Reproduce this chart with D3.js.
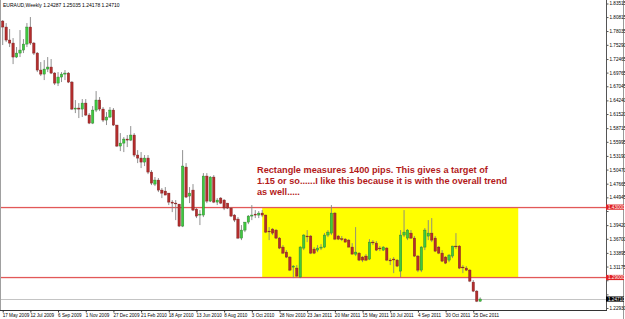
<!DOCTYPE html>
<html>
<head>
<meta charset="utf-8">
<script src="https://cdn.jsdelivr.net/npm/d3@7"></script>
<style>
body { margin: 0; background: #fff; }
svg { display: block; }
</style>
</head>
<body>
<div id="vis"></div>
<script>
var width = 625;
var height = 319;

var title = "EURAUD,Weekly  1.24287 1.25035 1.24178 1.24710";
var firstWeek = "2009-05-17";

// weekly candles, oldest first
var open = [1.8002,1.7883,1.7624,1.7564,1.7286,1.7365,1.7425,1.7544,1.7883,1.7564,
    1.7365,1.7027,1.6947,1.7047,1.7087,1.6967,1.6768,1.6888,1.6947,1.6967,
    1.6788,1.6251,1.6271,1.6251,1.6370,1.6132,1.5972,1.6231,1.6430,1.6251,
    1.6032,1.6092,1.6231,1.5933,1.5515,1.5574,1.5654,1.5634,1.5734,1.5336,
    1.5276,1.5196,1.5276,1.4997,1.4758,1.4838,1.4639,1.4619,1.4579,1.4400,
    1.4380,1.4360,1.3923,1.5097,1.4520,1.4639,1.4261,1.4142,1.4142,1.4918,
    1.4420,1.4898,1.4400,1.4480,1.4440,1.4380,1.4281,1.4142,1.4062,1.3684,
    1.3843,1.4002,1.4122,1.4161,1.4142,1.4181,1.4142,1.3823,1.3863,1.3843,
    1.3684,1.3505,1.3405,1.3306,1.3107,1.3087,1.2908,1.3485,1.3724,1.3724,
    1.3465,1.3445,1.3485,1.3505,1.3744,1.3783,1.4181,1.3724,1.3670,1.3664,
    1.3644,1.3505,1.3365,1.3385,1.3306,1.3326,1.3266,1.3604,1.3584,1.3485,
    1.3445,1.3485,1.3246,1.3266,1.3246,1.3027,1.3744,1.3684,1.3783,1.3684,
    1.3326,1.3047,1.3505,1.3724,1.3783,1.3684,1.3505,1.3385,1.3306,1.3246,
    1.3326,1.3525,1.3525,1.3107,1.3087,1.3047,1.2808,1.2629,1.24287];
var high = [1.8022,1.7962,1.7843,1.7664,1.7485,1.7823,1.7644,1.7962,1.8082,1.7584,
    1.7385,1.7186,1.7226,1.7286,1.7246,1.6987,1.6987,1.6987,1.7027,1.6987,
    1.6808,1.6430,1.6370,1.6450,1.6450,1.6171,1.6311,1.6609,1.6490,1.6291,
    1.6191,1.6291,1.6271,1.5933,1.5773,1.5694,1.5734,1.5913,1.5773,1.5435,
    1.5395,1.5336,1.5336,1.5037,1.4898,1.4878,1.4679,1.4699,1.4579,1.4440,
    1.4440,1.4360,1.5435,1.5176,1.4699,1.4758,1.4281,1.4241,1.4977,1.4977,
    1.4918,1.4937,1.4480,1.4500,1.4460,1.4380,1.4301,1.4161,1.4102,1.3943,
    1.4002,1.4142,1.4341,1.4241,1.4221,1.4241,1.4150,1.3903,1.3883,1.3863,
    1.3704,1.3545,1.3445,1.3326,1.3147,1.3147,1.3525,1.3763,1.3843,1.3744,
    1.3505,1.3545,1.3564,1.3783,1.3843,1.4341,1.4201,1.3744,1.3724,1.3684,
    1.3664,1.3584,1.3903,1.3405,1.3326,1.3365,1.3664,1.3644,1.3624,1.3525,
    1.3525,1.3505,1.3286,1.3306,1.3266,1.3843,1.4241,1.3863,1.3843,1.3724,
    1.3346,1.3525,1.3883,1.4042,1.4082,1.3724,1.3525,1.3445,1.3326,1.3365,
    1.3530,1.3783,1.3545,1.3147,1.3127,1.3067,1.2848,1.2649,1.25035];
var low = [1.7525,1.7584,1.7485,1.7146,1.7266,1.7286,1.7365,1.7485,1.7525,1.7326,
    1.6987,1.6908,1.6828,1.6987,1.6947,1.6729,1.6709,1.6788,1.6828,1.6768,
    1.6231,1.6171,1.6072,1.6092,1.6112,1.5952,1.5952,1.6191,1.6211,1.5992,
    1.5933,1.6072,1.5913,1.5495,1.5415,1.5395,1.5495,1.5614,1.5296,1.5176,
    1.5077,1.5117,1.4957,1.4739,1.4719,1.4599,1.4480,1.4540,1.4341,1.4201,
    1.4042,1.3903,1.3903,1.4480,1.4380,1.4221,1.4082,1.3943,1.4102,1.4380,
    1.4400,1.4380,1.4341,1.4360,1.4241,1.4261,1.4102,1.4002,1.3664,1.3644,
    1.3803,1.3962,1.4042,1.4082,1.4082,1.4102,1.3783,1.3644,1.3744,1.3664,
    1.3465,1.3365,1.3286,1.3027,1.2888,1.2908,1.2888,1.3445,1.3604,1.3365,
    1.3365,1.3405,1.3445,1.3485,1.3704,1.3744,1.3644,1.3644,1.3624,1.3598,
    1.3500,1.3360,1.3326,1.3226,1.3206,1.3226,1.3246,1.3545,1.3425,1.3425,
    1.3425,1.3226,1.3147,1.2987,1.3107,1.2908,1.3704,1.3644,1.3664,1.3306,
    1.3007,1.3007,1.3445,1.3644,1.3604,1.3405,1.3365,1.3206,1.3166,1.3206,
    1.3286,1.3465,1.3067,1.2987,1.3027,1.2808,1.2609,1.2410,1.24178];
var close = [1.7883,1.7624,1.7564,1.7286,1.7365,1.7425,1.7544,1.7883,1.7564,1.7365,
    1.7027,1.6947,1.7047,1.7087,1.6967,1.6768,1.6888,1.6947,1.6967,1.6788,
    1.6251,1.6271,1.6251,1.6370,1.6132,1.5972,1.6231,1.6430,1.6251,1.6032,
    1.6092,1.6231,1.5933,1.5515,1.5574,1.5654,1.5634,1.5734,1.5336,1.5276,
    1.5196,1.5276,1.4997,1.4778,1.4838,1.4639,1.4579,1.4540,1.4400,1.4380,
    1.4375,1.3923,1.5117,1.4500,1.4579,1.4241,1.4122,1.4161,1.4918,1.4420,
    1.4898,1.4400,1.4440,1.4380,1.4281,1.4281,1.4122,1.4042,1.3684,1.3843,
    1.4002,1.4122,1.4142,1.4142,1.4181,1.4142,1.3803,1.3818,1.3783,1.3684,
    1.3485,1.3385,1.3306,1.3047,1.3127,1.2928,1.3505,1.3744,1.3719,1.3385,
    1.3385,1.3485,1.3505,1.3744,1.3803,1.4181,1.3664,1.3664,1.3664,1.3604,
    1.3505,1.3365,1.3405,1.3246,1.3246,1.3246,1.3604,1.3599,1.3445,1.3480,
    1.3505,1.3246,1.3241,1.3261,1.3127,1.3744,1.3803,1.3843,1.3684,1.3326,
    1.3047,1.3505,1.3843,1.3783,1.3644,1.3425,1.3385,1.3226,1.3186,1.3346,
    1.3525,1.3518,1.3087,1.3100,1.3047,1.2828,1.2629,1.24287,1.24710];

var dateLabels = ["17 May 2009","12 Jul 2009","6 Sep 2009","1 Nov 2009","27 Dec 2009",
    "21 Feb 2010","18 Apr 2010","13 Jun 2010","8 Aug 2010","3 Oct 2010","28 Nov 2010",
    "23 Jan 2011","20 Mar 2011","15 May 2011","10 Jul 2011","4 Sep 2011","30 Oct 2011","25 Dec 2011"];
var priceTicks = [1.83515,1.80815,1.78035,1.75290,1.72465,1.69765,1.67045,1.64240,1.61520,
    1.58715,1.55995,1.53190,1.50470,1.47665,1.44945,1.42225,1.39420,1.36700,1.33895,
    1.31175,1.28455,1.25650,1.22930];

var levels = [1.43000, 1.29000];
var boxFrom = "2010-10-24";
var boxTo = "2012-03-25";
var lastPrice = 1.24710;
var note = ["Rectangle measures 1400 pips. This gives a target of",
    "1.15 or so......I like this because it is with the overall trend",
    "as well....."];

var axisX = 606;
var axisY = 310;

function weekIndex(s) {
    return Math.round((new Date(s) - new Date(firstWeek)) / (7 * 864e5));
}

var x = d3.scaleLinear().domain([0, 174]).range([2.7, 2.7 + 3.46 * 174]);
var y = d3.scaleLinear().domain([priceTicks[priceTicks.length - 1], priceTicks[0]]).range([308, 3.5]);

var svg = d3.select('#vis').append('svg')
    .attr('width', width)
    .attr('height', height)
    .style('font-family', '"Liberation Sans", Arial, sans-serif');

svg.append('rect').attr('width', width).attr('height', height).attr('fill', '#fff');

// rectangle object (drawn behind the bars)
svg.append('rect')
    .attr('x', x(weekIndex(boxFrom)))
    .attr('y', y(levels[0]))
    .attr('width', x(weekIndex(boxTo)) - x(weekIndex(boxFrom)))
    .attr('height', y(levels[1]) - y(levels[0]))
    .attr('fill', '#ffff00');

// horizontal lines, drawn as thin filled strips
svg.selectAll('.level').data(levels).enter().append('rect')
    .attr('class', 'level')
    .attr('x', 0).attr('width', axisX)
    .attr('y', d => Math.round(y(d)) - 0.1).attr('height', 1.3)
    .attr('fill', '#e25858');

svg.append('line')
    .attr('x1', 0).attr('x2', axisX)
    .attr('y1', Math.round(y(lastPrice)) + 0.5).attr('y2', Math.round(y(lastPrice)) + 0.5)
    .style('stroke', '#c4c4c4');

// candles
var bars = d3.range(open.length);
svg.selectAll('.wick').data(bars).enter().append('line')
    .attr('class', 'wick')
    .attr('x1', i => x(i)).attr('x2', i => x(i))
    .attr('y1', i => y(high[i])).attr('y2', i => y(low[i]))
    .style('stroke', '#858585').style('stroke-width', 0.9);

svg.selectAll('.body').data(bars).enter().append('rect')
    .attr('class', 'body')
    .attr('x', i => x(i) - 1.2)
    .attr('width', 2.4)
    .attr('y', i => y(Math.max(open[i], close[i])))
    .attr('height', i => Math.max(0.8, Math.abs(y(open[i]) - y(close[i]))))
    .attr('fill', i => close[i] > open[i] ? '#3fc83f' : (close[i] < open[i] ? '#b32d2d' : '#444'))
    .attr('stroke', i => close[i] > open[i] ? '#2a7a2a' : '#7a1e1e')
    .attr('stroke-width', 0.4);

// annotation
svg.selectAll('.note').data(note).enter().append('text')
    .attr('class', 'note')
    .attr('x', 257)
    .attr('y', (d, i) => 172.7 + i * 11)
    .attr('fill', '#b31b1b')
    .attr('font-size', 9.2)
    .attr('font-weight', 'bold')
    .text(d => d);

// title
svg.append('text')
    .attr('x', 3).attr('y', 7)
    .attr('font-size', 5)
    .attr('fill', '#000')
    .text(title);

// frame
svg.append('line').attr('x1', 0.5).attr('x2', 0.5).attr('y1', 0).attr('y2', axisY)
    .style('stroke', '#a0a0a0');
svg.append('line').attr('x1', axisX + 0.5).attr('x2', axisX + 0.5).attr('y1', 0).attr('y2', axisY)
    .style('stroke', '#555');
svg.append('line').attr('x1', 0).attr('x2', axisX + 1).attr('y1', axisY + 0.5).attr('y2', axisY + 0.5)
    .style('stroke', '#333');
svg.append('line').attr('x1', 623.5).attr('x2', 623.5).attr('y1', 0).attr('y2', height)
    .style('stroke', '#9a9a9a');

// price axis; labels that sit under a price tag are hidden, as on the terminal
var tagPrices = levels.concat([lastPrice]);
var yAxis = d3.axisRight(y)
    .tickValues(priceTicks)
    .tickSize(2)
    .tickPadding(1)
    .tickFormat(d3.format('.5f'));
var gy = svg.append('g').attr('transform', 'translate(' + (axisX + 0.5) + ',0)').call(yAxis);
gy.select('.domain').remove();
gy.selectAll('line').style('stroke', '#555');
gy.selectAll('text').attr('font-size', 4.6).attr('fill', '#000').attr('font-family', null)
    .filter(d => tagPrices.some(p => Math.abs(y(p) - y(d)) < 5.3)).remove();

// time axis
var xAxis = d3.axisBottom(x)
    .tickValues(dateLabels.map((d, i) => i * 8))
    .tickSize(2)
    .tickPadding(1)
    .tickFormat((d, i) => dateLabels[i]);
var gx = svg.append('g').attr('transform', 'translate(0,' + (axisY + 0.5) + ')').call(xAxis);
gx.select('.domain').remove();
gx.selectAll('line').style('stroke', '#333');
gx.selectAll('text').attr('font-size', 4.6).attr('fill', '#000').attr('font-family', null)
    .attr('text-anchor', 'start').attr('dx', -0.5);

// price tags on the axis
var tags = levels.map(d => ({ v: d, bg: '#e02222' })).concat([{ v: lastPrice, bg: '#000' }]);
var tg = svg.selectAll('.tag').data(tags).enter().append('g').attr('class', 'tag');
tg.append('rect')
    .attr('x', axisX)
    .attr('y', d => y(d.v) - 2.6)
    .attr('width', 18)
    .attr('height', 5.2)
    .attr('fill', d => d.bg);
tg.append('text')
    .attr('x', axisX + 2)
    .attr('y', d => y(d.v) + 1.7)
    .attr('font-size', 4.6)
    .attr('fill', '#fff')
    .text(d => d3.format('.5f')(d.v));
</script>
</body>
</html>
